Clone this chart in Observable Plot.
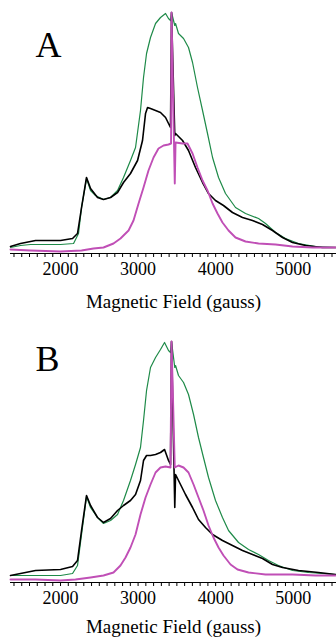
<!DOCTYPE html>
<html><head><meta charset="utf-8">
<script src="https://cdn.jsdelivr.net/npm/d3@7"></script>
<script src="https://cdn.jsdelivr.net/npm/@observablehq/plot@0.6"></script>
<style>
body{margin:0;background:#fff;}
#chart{width:336px;}
#chart svg{display:block;}
g[aria-label="x-axis"] > text, g[aria-label="x-axis label"] text {font-size:19px;}
</style></head><body><div id="chart"></div>
<script>
// Panel A
const greenA_field = [1355,1484,1613,1800,2000,2168,2232,2271,2335,2387,2451,2554,2645,2735,2812,2902,2967,3031,3070,3109,3160,3225,3289,3354,3392,3418,3431,3473,3483,3521,3586,3650,3702,3766,3831,3895,3960,4037,4127,4256,4385,4553,4643,4772,4901,5068,5287,5545];
const greenA_int   = [6,8,9,9,9,10,20,46,75,63,58,54,56,63,76,93,106,143,176,200,216,230,236,240,235,233,241,228,230,220,215,206,191,166,143,120,96,76,60,46,40,35,30,21,15,10,7,6];
const blackA_field = [1355,1484,1678,2000,2155,2219,2271,2335,2387,2477,2554,2645,2735,2812,2902,2993,3057,3096,3122,3160,3225,3289,3354,3418,3431,3473,3483,3573,3650,3740,3831,3908,3998,4101,4217,4346,4475,4604,4733,4862,4991,5158,5378,5545];
const blackA_int   = [7,10,13,13,15,20,46,76,65,56,54,56,61,71,80,93,113,140,146,145,143,141,136,126,241,118,120,113,103,86,71,60,53,48,41,36,33,29,23,16,11,8,6,6];
const magentaA_field = [1355,1613,2000,2271,2425,2554,2683,2773,2877,2941,3006,3070,3134,3199,3263,3328,3392,3425,3431,3473,3483,3573,3637,3702,3766,3831,3895,3960,4024,4088,4166,4256,4385,4553,4772,4991,5249,5545];
const magentaA_int   = [4,3,2,3,5,6,10,15,23,33,50,66,83,96,105,108,109,110,241,70,111,110,110,100,86,73,63,50,40,31,23,16,12,10,9,7,6,6];
// Panel B
const greenB_field = [1355,1678,2000,2155,2219,2271,2335,2387,2477,2554,2645,2735,2812,2902,2967,3031,3070,3109,3160,3225,3289,3341,3392,3418,3431,3473,3483,3521,3586,3650,3715,3779,3843,3908,3998,4088,4166,4295,4424,4553,4681,4810,4991,5197,5545];
const greenB_int   = [7,7,7,9,17,48,86,75,65,59,62,68,82,102,118,135,162,192,215,225,233,240,232,230,241,215,217,207,200,188,168,145,125,105,82,65,52,40,33,28,22,17,12,10,8];
const blackB_field = [1355,1678,2000,2155,2219,2271,2335,2387,2477,2554,2645,2735,2812,2902,2967,3031,3070,3109,3160,3225,3289,3341,3392,3418,3431,3473,3483,3547,3611,3702,3779,3869,3960,4088,4217,4346,4475,4604,4733,4862,5068,5326,5545];
const blackB_int   = [7,12,13,16,22,52,87,77,65,60,64,72,77,82,88,102,122,127,127,128,130,133,122,118,241,75,108,98,88,75,63,55,48,42,37,32,28,24,18,15,12,10,8];
const magentaB_field = [1355,1678,2000,2193,2387,2554,2683,2773,2838,2902,2967,3031,3096,3160,3225,3289,3354,3418,3431,3473,3521,3586,3650,3715,3779,3843,3908,3972,4037,4101,4192,4282,4424,4643,4991,5287,5545];
const magentaB_int   = [3,3,2,3,5,7,10,17,25,35,48,68,85,98,110,115,116,115,241,115,117,115,110,98,85,72,57,45,35,27,18,13,10,8,8,7,7];

const panelLabels = ["A", "B"];
const tickValues = d3.range(1400, 5600, 100);
const majorTicks = [2000, 3000, 4000, 5000];
const axisTitle = "Magnetic Field (gauss)";

const colors = {green: "#1e8a48", black: "#000000", magenta: "#c04fb6"};
const widths = {green: 1.2, black: 1.6, magenta: 1.9};

function rows(name, field, vals) { return field.map((f, i) => ({name, field: f, value: vals[i]})); }

function panel(letter, series, letterDy, height, marginBottom, labelOffset) {
  return Plot.plot({
    width: 336, height, marginTop: 12, marginBottom, marginLeft: 10, marginRight: 0,
    style: {fontFamily: '"Liberation Serif", "Times New Roman", serif', fontSize: "18px", color: "#000", background: "#fff"},
    x: {domain: [1355, 5558], ticks: tickValues, tickFormat: d => majorTicks.includes(d) ? String(d) : "",
        tickSize: 4, tickPadding: 5, line: true, label: axisTitle, labelArrow: "none", labelAnchor: "center", labelOffset},
    y: {domain: [0, 241], axis: null},
    marks: [
      ...series.map(s => Plot.line(s.data, {x: "field", y: "value", stroke: colors[s.name], strokeWidth: widths[s.name]})),
      Plot.text([letter], {frameAnchor: "top-left", dx: 25, dy: letterDy, textAnchor: "start", lineAnchor: "middle", fontSize: 36, fill: "#000"})
    ]
  });
}

const chart = document.getElementById("chart");
chart.appendChild(panel(panelLabels[0], [
  {name: "green", data: rows("green", greenA_field, greenA_int)},
  {name: "black", data: rows("black", blackA_field, blackA_int)},
  {name: "magenta", data: rows("magenta", magentaA_field, magentaA_int)}
], 33, 329, 76, 54));
chart.appendChild(panel(panelLabels[1], [
  {name: "green", data: rows("green", greenB_field, greenB_int)},
  {name: "black", data: rows("black", blackB_field, blackB_int)},
  {name: "magenta", data: rows("magenta", magentaB_field, magentaB_int)}
], 18, 310, 57, 50));
</script></body></html>
